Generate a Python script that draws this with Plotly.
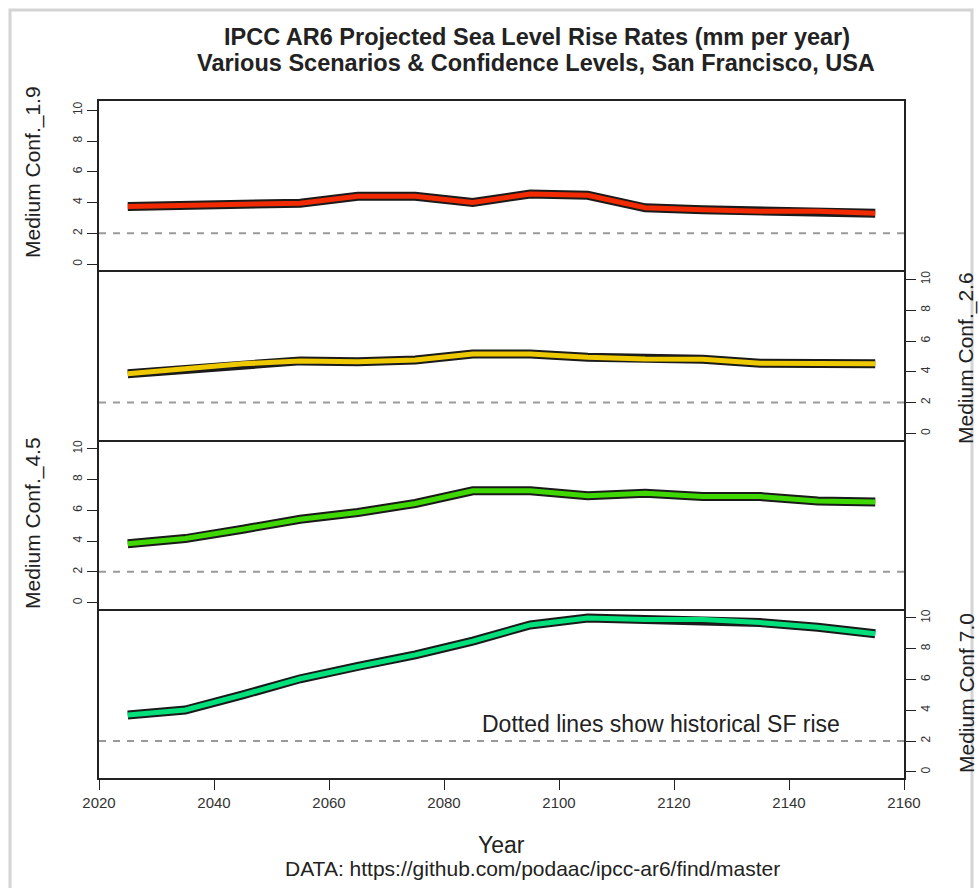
import plotly.graph_objects as go

years = [2025, 2035, 2045, 2055, 2065, 2075, 2085, 2095, 2105, 2115, 2125, 2135, 2145, 2155]
ssp119 = [3.74, 3.81, 3.85, 3.96, 4.41, 4.41, 4.0, 4.56, 4.47, 3.66, 3.53, 3.44, 3.44, 3.31]
ssp126 = [3.87, 4.17, 4.52, 4.71, 4.66, 4.77, 5.16, 5.16, 4.95, 4.84, 4.82, 4.56, 4.52, 4.52]
ssp245 = [3.83, 4.16, 4.77, 5.42, 5.86, 6.44, 7.27, 7.27, 6.95, 7.1, 6.89, 6.89, 6.6, 6.54]
ssp370 = [3.7, 4.02, 5.0, 6.05, 6.85, 7.6, 8.5, 9.55, 10.0, 9.9, 9.9, 9.7, 9.4, 8.97]
series = [ssp119, ssp126, ssp245, ssp370]
names = ["Medium Conf._1.9", "Medium Conf._2.6", "Medium Conf._4.5", "Medium Conf 7.0"]
colors = ["#F22A00", "#EEC900", "#3ED800", "#00E07A"]
historical = 2.0
x_ticks = [2020, 2040, 2060, 2080, 2100, 2120, 2140, 2160]
y_ticks = [0, 2, 4, 6, 8, 10]

W, H = 979, 888
# plot area in page pixels
PL, PR, PT, PB = 99, 904, 101, 778
FONT = "Liberation Sans, Arial, sans-serif"

def px(xp):  # page x -> paper
    return (xp - PL) / (PR - PL)

def py(yp):  # page y -> paper
    return (PB - yp) / (PB - PT)

fig = go.Figure()
n = 4
for i in range(n):
    k = i + 1
    xa = "x" if k == 1 else f"x{k}"
    ya = "y" if k == 1 else f"y{k}"
    fig.add_trace(go.Scatter(x=[2020, 2160], y=[historical, historical], mode="lines",
                             line=dict(color="#9a9a9a", width=2, dash="7px,7px"),
                             xaxis=xa, yaxis=ya, showlegend=False, hoverinfo="skip"))
    fig.add_trace(go.Scatter(x=years, y=series[i], mode="lines",
                             line=dict(color="#1a1a1a", width=9),
                             xaxis=xa, yaxis=ya, showlegend=False, hoverinfo="skip"))
    fig.add_trace(go.Scatter(x=years, y=series[i], mode="lines",
                             line=dict(color=colors[i], width=5),
                             xaxis=xa, yaxis=ya, showlegend=False, name=names[i]))

layout = dict(
    width=W, height=H,
    margin=dict(l=PL, r=W - PR, t=PT, b=H - PB, pad=0),
    paper_bgcolor="white", plot_bgcolor="white",
    font=dict(family=FONT, color="#222"),
)
for i in range(n):
    k = i + 1
    top = 1 - i / n
    bot = 1 - (i + 1) / n
    xkey = "xaxis" if k == 1 else f"xaxis{k}"
    ykey = "yaxis" if k == 1 else f"yaxis{k}"
    last = (k == n)
    layout[xkey] = dict(
        domain=[0, 1], range=[2020, 2160], anchor="y" if k == 1 else f"y{k}",
        showline=True, mirror=(k == 1), linecolor="#222", linewidth=1.5,
        showgrid=False, zeroline=False,
        tickvals=x_ticks if last else [], ticks="outside" if last else "",
        ticklen=10, tickwidth=1.3, tickcolor="#222",
        showticklabels=last, tickfont=dict(size=15, color="#333", family=FONT),
    )
    layout[ykey] = dict(
        domain=[bot, top], range=[-0.4, 10.6], anchor="x" if k == 1 else f"x{k}",
        side="left" if k % 2 == 1 else "right",
        showline=True, mirror=True, linecolor="#222", linewidth=1.5,
        showgrid=False, zeroline=False,
        tickvals=y_ticks, ticks="outside", ticklen=10, tickwidth=1.3, tickcolor="#222",
        tickangle=-90, tickfont=dict(size=12, color="#333", family=FONT),
    )
fig.update_layout(**layout)

ann = []
title_y = [172, 358, 523, 693]
for i in range(n):
    xpos = 33 if i % 2 == 0 else 966
    ann.append(dict(text=names[i], x=px(xpos), y=py(title_y[i]), xref="paper", yref="paper",
                    textangle=-90, showarrow=False, xanchor="center", yanchor="middle",
                    font=dict(size=21, color="#222", family=FONT)))
ann.append(dict(text="<b>IPCC AR6 Projected Sea Level Rise Rates (mm per year)</b>",
                x=px(537), y=py(37), xref="paper", yref="paper", showarrow=False,
                xanchor="center", yanchor="middle", font=dict(size=23.5, color="#222", family=FONT)))
ann.append(dict(text="<b>Various Scenarios & Confidence Levels, San Francisco, USA</b>",
                x=px(536), y=py(63), xref="paper", yref="paper", showarrow=False,
                xanchor="center", yanchor="middle", font=dict(size=23.5, color="#222", family=FONT)))
ann.append(dict(text="Year", x=px(501), y=py(845), xref="paper", yref="paper", showarrow=False,
                xanchor="center", yanchor="middle", font=dict(size=23, color="#222", family=FONT)))
ann.append(dict(text="DATA: https://github.com/podaac/ipcc-ar6/find/master", x=px(532), y=py(868),
                xref="paper", yref="paper", showarrow=False, xanchor="center", yanchor="middle",
                font=dict(size=21, color="#222", family=FONT)))
ann.append(dict(text="Dotted lines show historical SF rise", x=2117.8, y=3.1, xref="x4", yref="y4",
                showarrow=False, xanchor="center", yanchor="middle",
                font=dict(size=23, color="#222", family=FONT)))
fig.update_layout(annotations=ann)

# light frame like the screenshot border
fig.add_shape(type="rect", xref="paper", yref="paper", x0=px(10), x1=px(972), y0=py(900), y1=py(10),
              line=dict(color="#d4d4d4", width=3), fillcolor="rgba(0,0,0,0)", layer="below")

fig.write_html(
    "out.html",
    config={"displayModeBar": False},
    post_script="document.body.style.margin='0';document.body.style.overflow='hidden';",
)
